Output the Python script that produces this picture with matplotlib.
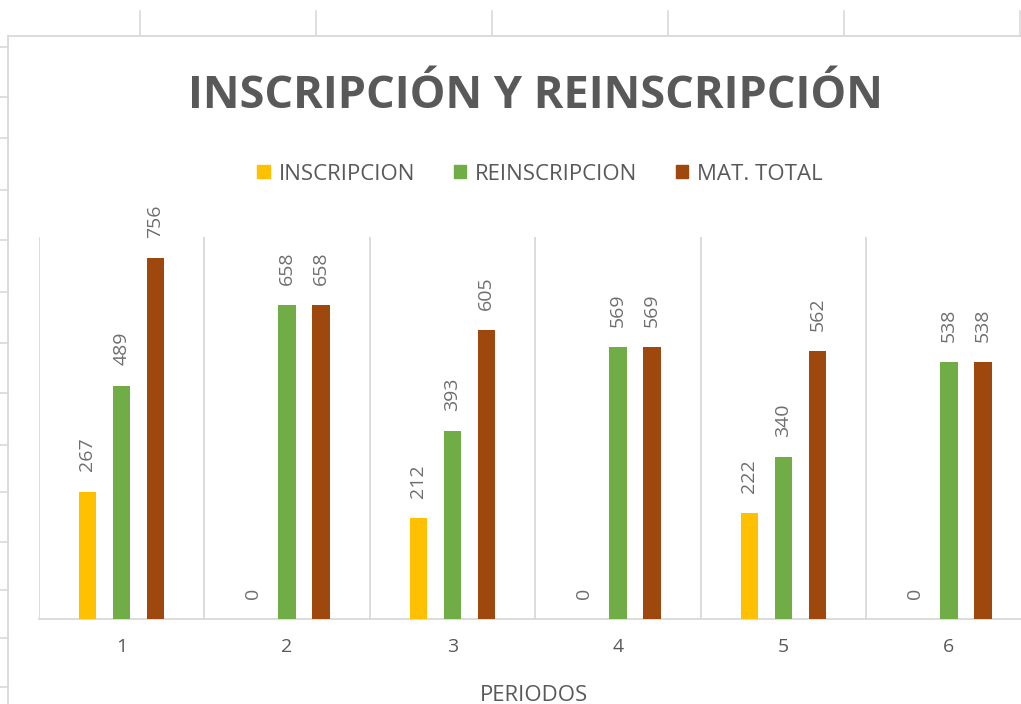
import matplotlib
matplotlib.use("Agg")
import matplotlib.pyplot as plt
from matplotlib.lines import Line2D
import numpy as np

# ---- data ----
periods = ["1", "2", "3", "4", "5", "6"]
inscripcion = [267, 0, 212, 0, 222, 0]
reinscripcion = [489, 658, 393, 569, 340, 538]
mat_total = [756, 658, 605, 569, 562, 538]
series_names = ["INSCRIPCION", "REINSCRIPCION", "MAT. TOTAL"]
title_text = "INSCRIPCIÓN Y REINSCRIPCIÓN"
xlabel_text = "PERIODOS"

colors = ["#FFC000", "#70AD47", "#9E480E"]
grid_col = "#D9D9D9"
text_col = "#595959"

W, H = 1021, 704
fig = plt.figure(figsize=(W / 100, H / 100), dpi=100)
plt.rcParams['font.family'] = ['Open Sans', 'DejaVu Sans']

def fx(px):
    return px / W

def fy(py):
    return 1 - py / H

# ---- spreadsheet background lines ----
for x in [140, 316, 492, 668, 844, 1020]:
    fig.add_artist(Line2D([fx(x), fx(x)], [fy(11), fy(36)], color=grid_col, lw=1.2))
for y in [47, 97, 138, 190, 240, 292, 343, 393, 445, 492, 542, 590, 638, 687]:
    fig.add_artist(Line2D([fx(0), fx(8)], [fy(y), fy(y)], color=grid_col, lw=1.2))
# chart area border
fig.add_artist(Line2D([fx(8), fx(W)], [fy(36), fy(36)], color=grid_col, lw=1.3))
fig.add_artist(Line2D([fx(8), fx(8)], [fy(36), fy(H)], color=grid_col, lw=1.3))

# ---- axes ----
left_px, bottom_px, top_px = 38.5, 619, 237
cat_w = 165.5
ax = fig.add_axes([fx(left_px), fy(bottom_px), fx(cat_w * 6), (bottom_px - top_px) / H])
ax.set_xlim(-0.5, 5.5)
ax.set_ylim(0, 800)

x = np.arange(len(periods))
offset = 34 / cat_w
bw = 17.5 / cat_w
all_series = [inscripcion, reinscripcion, mat_total]
for i, (vals, c, name) in enumerate(zip(all_series, colors, series_names)):
    pos = x + (i - 1) * offset
    ax.bar(pos, vals, width=bw, color=c, label=name, zorder=3)
    for xb, v in zip(pos, vals):
        ax.annotate(str(v), (xb, v), xytext=(0, 14.5), textcoords="offset points",
                    rotation=90, ha="center", va="bottom", fontsize=14,
                    color="#6E6E6E", zorder=4)

# category separators (gridlines)
for b in np.arange(-0.5, 6.0, 1.0):
    ax.axvline(b, color=grid_col, lw=1.3, zorder=1)

for s in ["top", "right", "left"]:
    ax.spines[s].set_visible(False)
ax.spines["bottom"].set_color(grid_col)
ax.spines["bottom"].set_linewidth(1.3)
ax.set_yticks([])
ax.set_xticks(x)
ax.set_xticklabels(periods)
ax.tick_params(axis="x", length=0, pad=14, labelsize=14, labelcolor=text_col)
ax.patch.set_alpha(0)

# ---- title ----
fig.text(fx(535), fy(108), title_text, ha="center", va="baseline",
         fontsize=32.5, fontweight="bold", color=text_col)

# ---- legend ----
handles = [plt.Rectangle((0, 0), 1, 1, color=c) for c in colors]
fig.legend(handles, series_names, loc="center", bbox_to_anchor=(fx(540), fy(174)),
           ncol=3, frameon=False, fontsize=16, handlelength=0.55, handleheight=0.55,
           handletextpad=0.4, columnspacing=1.75, borderpad=0, labelcolor=text_col)

# ---- x label ----
fig.text(fx(534), fy(701), xlabel_text, ha="center", va="baseline",
         fontsize=16, color=text_col)

fig.savefig("out.png", dpi=100)
